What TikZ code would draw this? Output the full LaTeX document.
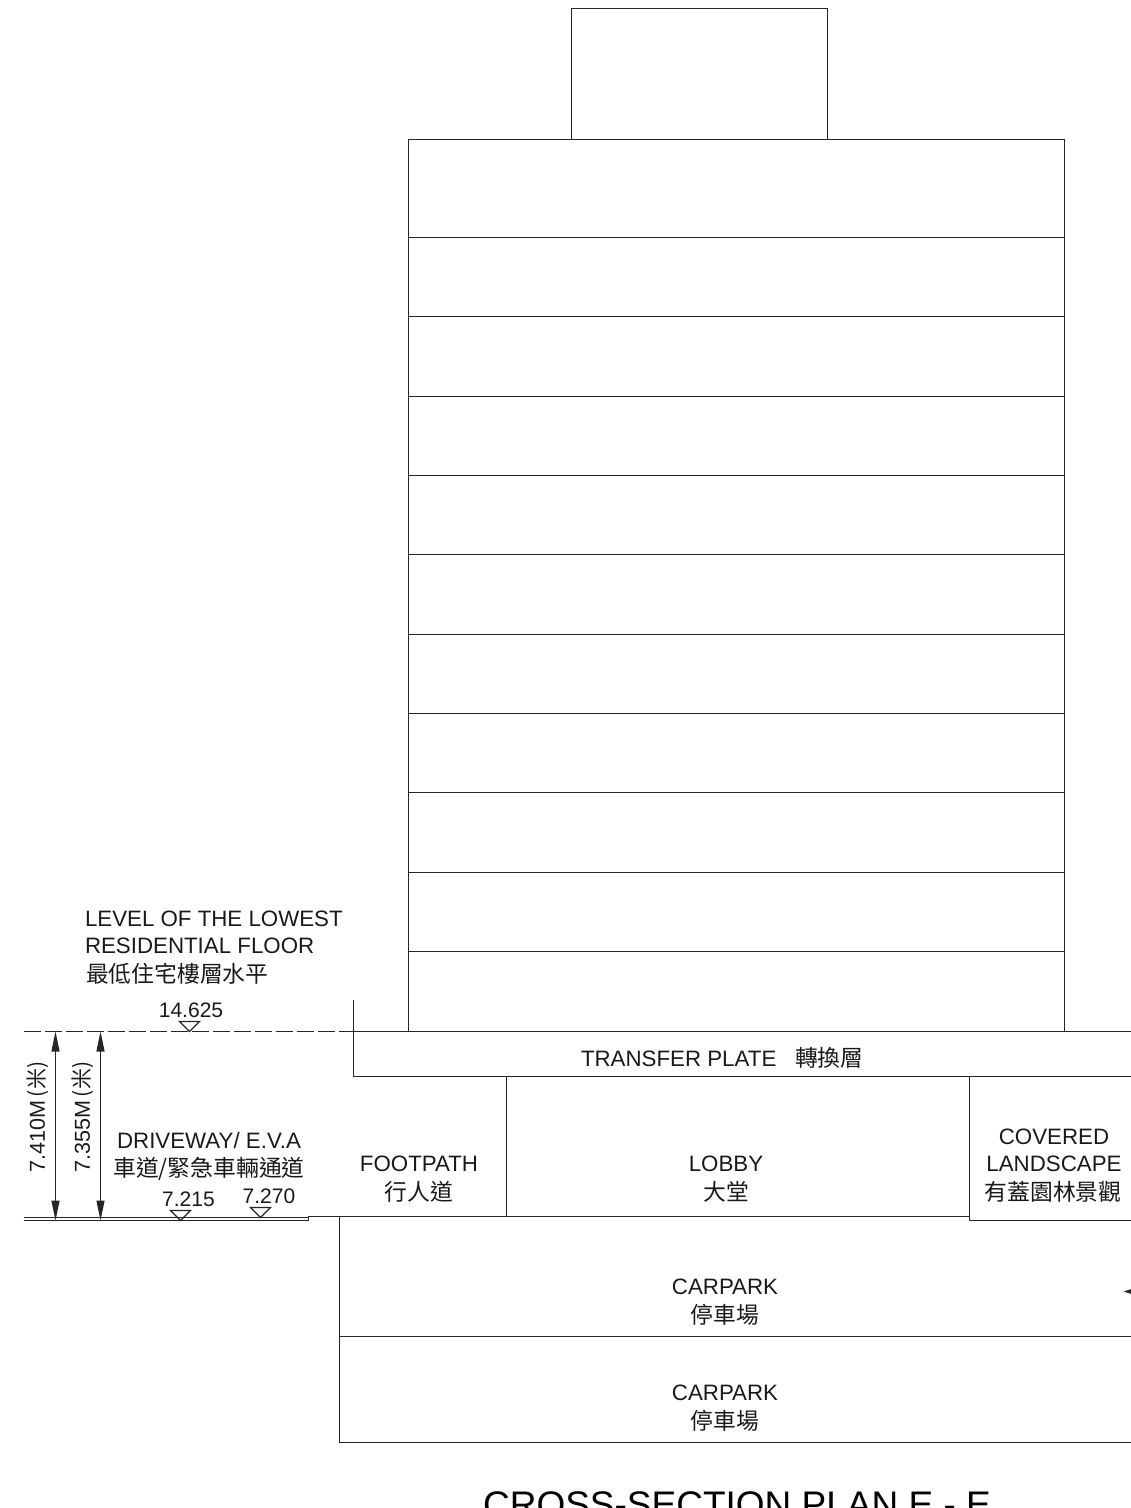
\documentclass[tikz,border=0pt]{standalone}
\usepackage{fontspec}
\setmainfont{Liberation Sans}
\newfontfamily\cjk{Noto Sans CJK TC}
\usetikzlibrary{arrows.meta}
\tikzset{
  ln/.style={line width=1.15pt,draw=black!85},
  txt/.style={inner sep=0pt,outer sep=0pt,anchor=base,text=black!90,font=\fontsize{22.3pt}{24pt}\selectfont},
  txtl/.style={txt,anchor=base west},
  num/.style={inner sep=0pt,outer sep=0pt,anchor=base,text=black!90,font=\fontsize{21pt}{24pt}\selectfont},
  zh/.style={inner sep=0pt,outer sep=0pt,anchor=base,text=black!90,font=\cjk\fontsize{22.8pt}{25pt}\selectfont},
  zhl/.style={zh,anchor=base west},
  dim/.style={line width=1.15pt,draw=black!85,{Triangle[length=20pt,width=8pt]}-{Triangle[length=20pt,width=8pt]}},
  mark tri/.style={line width=1.1pt,draw=black!85}
}
\begin{document}
\begin{tikzpicture}[x=1pt,y=-1pt]
\useasboundingbox (0.5,0.5) rectangle (1131.5,1508.5);
% tower
\draw[ln] (572,140) -- (572,9) -- (828,9) -- (828,140);
\draw[ln] (409,1032) -- (409,140) -- (1065,140) -- (1065,1032);
\foreach \fy in {238,317,397,476,555,635,714,793,873,952}
  \draw[ln] (409,\fy) -- (1065,\fy);
% datum and transfer plate
\draw[ln,dash pattern=on 17pt off 4pt] (24,1032) -- (354,1032);
\draw[ln] (354,1032) -- (1132,1032);
\draw[ln] (354,1000) -- (354,1077) -- (1132,1077);
% ground floor
\draw[ln] (507,1077) -- (507,1217);
\draw[ln] (970,1077) -- (970,1221) -- (1132,1221);
\draw[ln] (24,1218) -- (309,1218);
\draw[ln] (24,1221) -- (309,1221) -- (309,1217) -- (970,1217);
% carpark
\draw[ln] (340,1217) -- (340,1443) -- (1132,1443);
\draw[ln] (340,1337) -- (1132,1337);
\fill[black!85] (1124,1292) -- (1132,1289.5) -- (1132,1294.5) -- cycle;
% dimensions
\coordinate (dtop1) at (56,1032); \coordinate (dbot1) at (56,1221);
\coordinate (dtop2) at (101,1032); \coordinate (dbot2) at (101,1221);
\draw[dim] (dtop1) -- (dbot1);
\draw[dim] (dtop2) -- (dbot2);
\node[inner sep=0pt,rotate=90,text=black!90,font=\fontsize{21.6pt}{24pt}\selectfont] (d1) at (38.5,1117.5) {7.410M\kern3pt{\cjk\fontsize{21pt}{25pt}\selectfont (米)}};
\node[inner sep=0pt,rotate=90,text=black!90,font=\fontsize{21.6pt}{24pt}\selectfont] (d2) at (83.5,1117.5) {7.355M\kern3pt{\cjk\fontsize{21pt}{25pt}\selectfont (米)}};
% level marks
\draw[mark tri] (180,1022) -- (200,1022) -- (190,1032) -- cycle;
\draw[mark tri] (171,1211) -- (191,1211) -- (181,1221) -- cycle;
\draw[mark tri] (251,1208) -- (271,1208) -- (261,1218) -- cycle;
% labels
\node[txtl] (a1) at (85.5,926.5) {LEVEL OF THE LOWEST};
\node[txtl] (a2) at (85.5,953.5) {RESIDENTIAL FLOOR};
\node[zhl] (a3) at (86.5,982.5) {最低住宅樓層水平};
\node[num] (a4) at (191.5,1017.5) {14.625};
\node[txtl] (b1) at (581.5,1066.5) {TRANSFER PLATE};
\node[zhl] (b2) at (795.5,1066.5) {轉換層};
\node[txt] (c1) at (209.5,1148.5) {DRIVEWAY/ E.V.A};
\node[zh] (c2) at (209.5,1176.5) {車道/緊急車輛通道};
\node[num] (c3) at (189,1206.5) {7.215};
\node[num] (c4) at (269.5,1203.5) {7.270};
\node[txt] (e1) at (419.5,1171.5) {FOOTPATH};
\node[zh] (e2) at (419.5,1200.5) {行人道};
\node[txt] (f1) at (726.5,1171.5) {LOBBY};
\node[zh] (f2) at (726.5,1200.5) {大堂};
\node[txt] (g1) at (1054.5,1144.5) {COVERED};
\node[txt] (g2) at (1054.5,1171.5) {LANDSCAPE};
\node[zh] (g3) at (1053.5,1200.5) {有蓋園林景觀};
\node[txt] (h1) at (725.5,1294.5) {CARPARK};
\node[zh] (h2) at (725.5,1323.5) {停車場};
\node[txt] (i1) at (725.5,1400.5) {CARPARK};
\node[zh] (i2) at (725.5,1429.5) {停車場};
\node[inner sep=0pt,anchor=base,text=black,font=\fontsize{37pt}{40pt}\selectfont] (t) at (737.5,1517.5) {CROSS-SECTION PLAN E - E};
\end{tikzpicture}
\end{document}
